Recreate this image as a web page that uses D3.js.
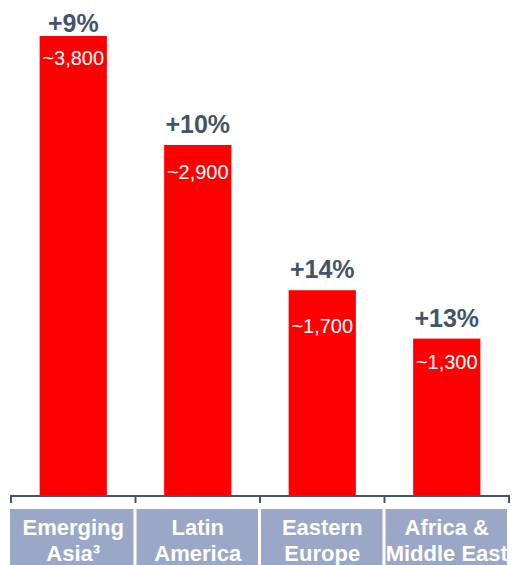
<!DOCTYPE html>
<html><head><meta charset="utf-8">
<script src="https://cdn.jsdelivr.net/npm/d3@7"></script>
<style>body{margin:0;background:#fff}svg{display:block}</style>
</head><body>
<svg id="c" width="512" height="565"></svg>
<script>
const categories = [["Emerging","Asia³"],["Latin","America"],["Eastern","Europe"],["Africa &","Middle East"]];
const values = [3800, 2900, 1700, 1300];
const valueLabels = ["~3,800","~2,900","~1,700","~1,300"];
const growthLabels = ["+9%","+10%","+14%","+13%"];

const svg = d3.select("#c");
const x0 = 11, x1 = 509, base = 496;
const x = d3.scaleBand().domain(d3.range(categories.length)).range([x0, x1]).paddingInner(0.46).paddingOuter(0.23);
const xb = d3.scaleBand().domain(d3.range(categories.length)).range([x0, x1]);
const y = d3.scaleLinear().domain([0, 3800]).range([base, 36]);
const dark = "#44546A";
const font = "Liberation Sans, Arial, sans-serif";
const valueOffsets = [29, 34, 43, 30]; // label placement inside bars (layout)

svg.selectAll("rect.bar").data(values).join("rect").attr("class","bar")
  .attr("x",(d,i)=>x(i)).attr("width",x.bandwidth())
  .attr("y",d=>y(d)).attr("height",d=>base-y(d)).attr("fill","#FF0000");

svg.selectAll("text.g").data(growthLabels).join("text").attr("class","g")
  .attr("x",(d,i)=>x(i)+x.bandwidth()/2).attr("y",(d,i)=>Math.max(y(values[i])-12, 32))
  .attr("text-anchor","middle").attr("font-family",font)
  .attr("font-weight","bold").attr("font-size",25).attr("fill",dark).text(d=>d);

svg.selectAll("text.v").data(valueLabels).join("text").attr("class","v")
  .attr("x",(d,i)=>x(i)+x.bandwidth()/2).attr("y",(d,i)=>y(values[i])+valueOffsets[i])
  .attr("text-anchor","middle").attr("font-family",font)
  .attr("font-size",20).attr("fill","#fff").text(d=>d);

// axis
const ax = svg.append("g").attr("transform",`translate(0,${base})`);
ax.append("line").attr("x1",x0).attr("x2",x1).attr("stroke",dark).attr("stroke-width",2);
const ticks = d3.range(categories.length+1).map(i=> i<categories.length? xb(i) : x1);
ax.selectAll("line.t").data(ticks).join("line").attr("class","t")
  .attr("x1",d=>d).attr("x2",d=>d).attr("y1",-1).attr("y2",7).attr("stroke",dark).attr("stroke-width",2);

// category boxes
const gap = 2;
const cg = svg.selectAll("g.cat").data(categories).join("g").attr("class","cat");
cg.append("rect").attr("x",(d,i)=>xb(i)+(i===0?0:gap)-1).attr("y",509)
  .attr("width",(d,i)=>xb.bandwidth()-(i===0?0:gap)-1).attr("height",56).attr("fill","#9AA7C7");
cg.each(function(d,i){
  const t = d3.select(this).append("text").attr("text-anchor","middle")
    .attr("font-family",font).attr("font-weight","bold")
    .attr("font-size",22).attr("fill","#fff");
  d.forEach((line,j)=>t.append("tspan").attr("x",xb(i)+xb.bandwidth()/2).attr("y",535+j*26).text(line));
});
</script>
</body></html>
